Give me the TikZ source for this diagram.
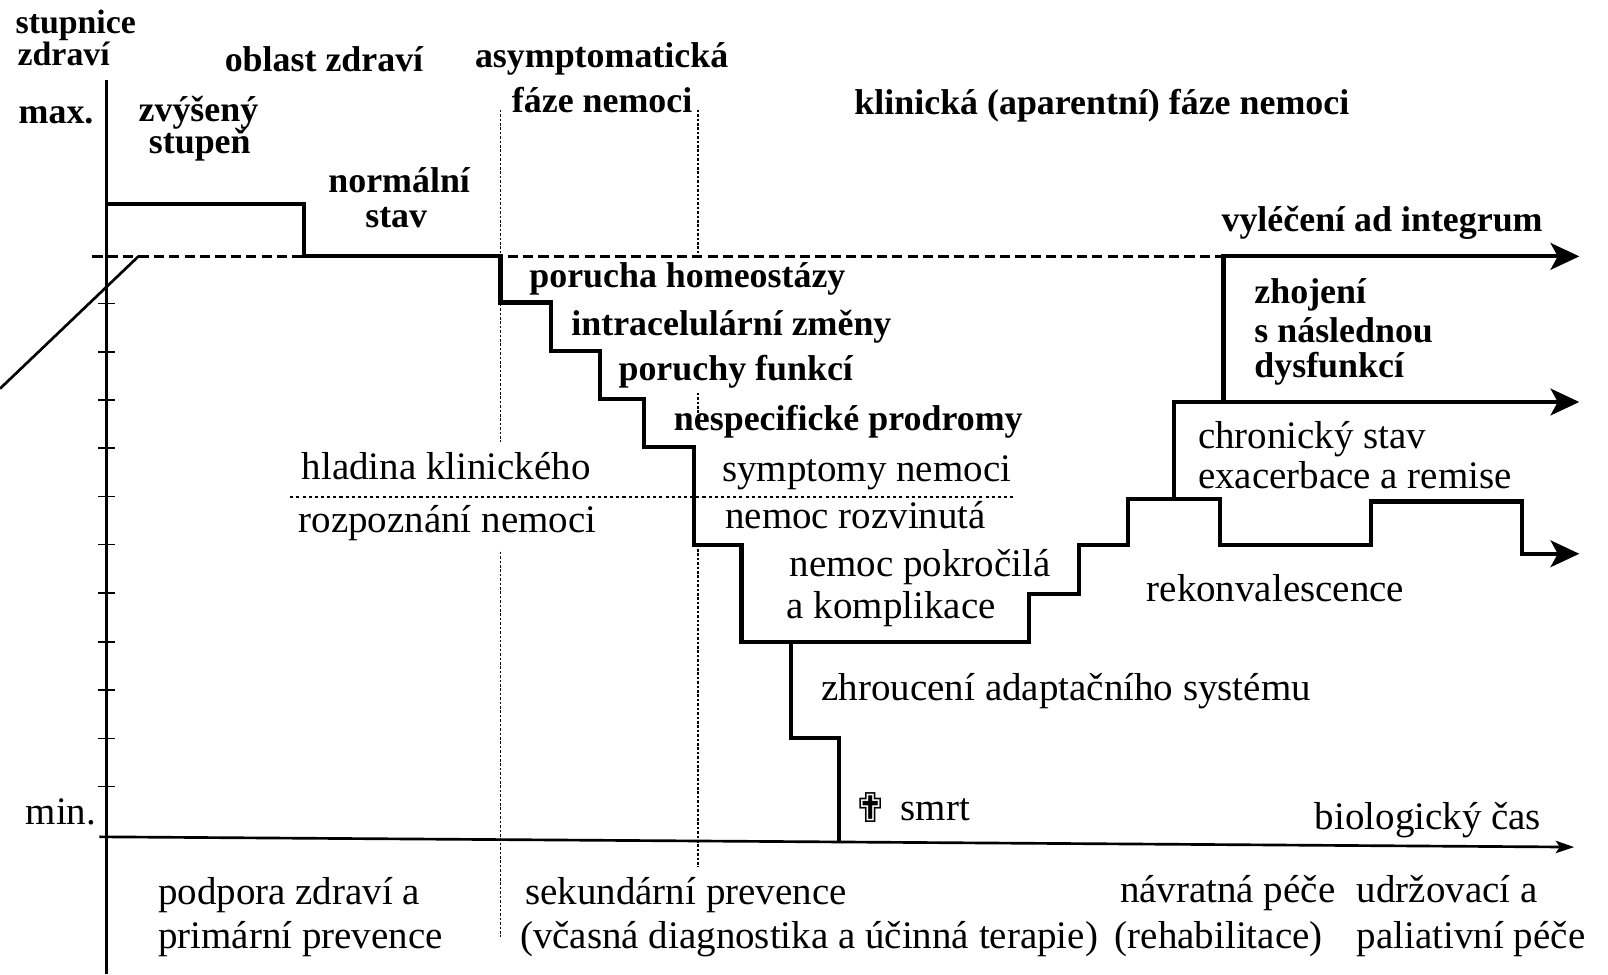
\documentclass[tikz,border=0pt]{standalone}
\usepackage{fontspec}
\setmainfont{Liberation Serif}
\newfontfamily\symfont{DejaVu Sans}
\usetikzlibrary{arrows.meta}
\begin{document}
\begin{tikzpicture}[x=1pt,y=-1pt,
  bl/.style={font=\bfseries\fontsize{35}{38}\selectfont,inner sep=0pt,anchor=base west},
  blsmall/.style={font=\bfseries\fontsize{33}{36}\selectfont,inner sep=0pt,anchor=base west},
  rg/.style={font=\fontsize{38}{42}\selectfont,inner sep=0pt,anchor=base west},
  curve/.style={line width=4pt,line join=miter},
  axisline/.style={line width=2.6pt},
  tickline/.style={line width=1.6pt},
  phase/.style={line width=1.8pt,dash pattern=on 2.5pt off 1.8pt},
  recog/.style={line width=1.8pt,dash pattern=on 3pt off 3pt},
  level/.style={line width=2.2pt,dash pattern=on 10pt off 5pt},
  bigarrow/.style={-{Stealth[length=28pt,width=26pt,inset=7pt]}},
  smallarrow/.style={-{Stealth[length=18pt,width=12pt,inset=4pt]}}
]
\path[use as bounding box] (0,0) rectangle (1568,950);

% axes
\draw[axisline] (104,78) -- (104,950);
\draw[axisline,smallarrow] (97,816) -- (1535,826);
\foreach \yy in {296,343,390,437,484,531,578,626,673,720,767}
  \draw[tickline] (96,\yy) -- (112,\yy);
\draw[axisline] (0,379) -- (135,250);

% phase boundaries
\draw[phase] (488,107) -- (488,431);
\draw[phase] (488,538) -- (488,914);
\draw[phase] (681,107) -- (681,250);
\draw[phase] (681,383) -- (681,410);
\draw[phase] (681,531) -- (681,845);
\draw[recog] (283,485) -- (989,485);

% normal level
\draw[level] (90,250) -- (1193,250);

% course of health
\draw[curve,bigarrow] (104,199) -- (296,199) -- (296,250) -- (488,250) -- (488,295)
  -- (537,295) -- (537,342) -- (585,342) -- (585,389) -- (628,389) -- (628,436)
  -- (677,436) -- (677,531) -- (723,531) -- (723,626) -- (1003,626) -- (1003,579)
  -- (1052,579) -- (1052,531) -- (1100,531) -- (1100,487) -- (1190,487) -- (1190,531)
  -- (1337,531) -- (1337,489) -- (1484,489) -- (1484,540) -- (1540,540);
\draw[curve,bigarrow] (1145,487) -- (1145,392) -- (1540,392);
\draw[curve,bigarrow] (1193,392) -- (1193,250) -- (1540,250);
\draw[curve] (771,626) -- (771,720) -- (818,720) -- (818,821);

% labels (bold, upper part)
\node[blsmall] (t1) at (15,33) {stupnice};
\node[blsmall] (t2) at (17,64) {zdraví};
\node[bl] (t3) at (219,70) {oblast zdraví};
\node[bl] (t4) at (18,120) {max.};
\node[bl] (t5) at (135,118) {zvýšený};
\node[bl] (t6) at (145,150) {stupeň};
\node[bl] (t7) at (320,188) {normální};
\node[bl] (t8) at (356,222) {stav};
\node[bl] (t9) at (463,66) {asymptomatická};
\node[bl] (t10) at (499,110) {fáze nemoci};
\node[bl] (t11) at (833,112) {klinická (aparentní) fáze nemoci};
\node[bl] (t12) at (1191,226) {vyléčení ad integrum};
\node[bl] (t13) at (516,280) {porucha homeostázy};
\node[bl] (t14) at (557,327) {intracelulární změny};
\node[bl] (t15) at (603,371) {poruchy funkcí};
\node[bl] (t16) at (657,420) {nespecifické prodromy};
\node[bl] (t17) at (1223,296) {zhojení};
\node[bl] (t18) at (1223,334) {s následnou};
\node[bl] (t19) at (1223,368) {dysfunkcí};

% labels (regular)
\node[rg] (r1) at (704,470) {symptomy nemoci};
\node[rg] (r2) at (707,515) {nemoc rozvinutá};
\node[rg] (r3) at (770,562) {nemoc pokročilá};
\node[rg] (r4) at (767,603) {a komplikace};
\node[rg] (r5) at (1168,437) {chronický stav};
\node[rg] (r6) at (1168,476) {exacerbace a remise};
\node[rg] (r7) at (294,468) {hladina klinického};
\node[rg] (r8) at (291,519) {rozpoznání nemoci};
\node[rg] (r9) at (1118,587) {rekonvalescence};
\node[rg] (r10) at (801,683) {zhroucení adaptačního systému};
\node[rg] (r11) at (25,804) {min.};
\node[inner sep=0pt,anchor=base west,font=\symfont\fontsize{40}{42}\selectfont] (cross) at (832,802) {✟};
\node[rg] (r12) at (878,800) {smrt};
\node[rg] (r13) at (1282,809) {biologický čas};
\node[rg] (r14) at (154,882) {podpora zdraví a};
\node[rg] (r15) at (154,925) {primární prevence};
\node[rg] (r16) at (512,882) {sekundární prevence};
\node[rg] (r17) at (507,925) {(včasná diagnostika a účinná terapie)};
\node[rg] (r18) at (1092,880) {návratná péče};
\node[rg] (r19) at (1087,925) {(rehabilitace)};
\node[rg] (r20) at (1323,880) {udržovací a};
\node[rg] (r21) at (1323,925) {paliativní péče};
\end{tikzpicture}
\end{document}
